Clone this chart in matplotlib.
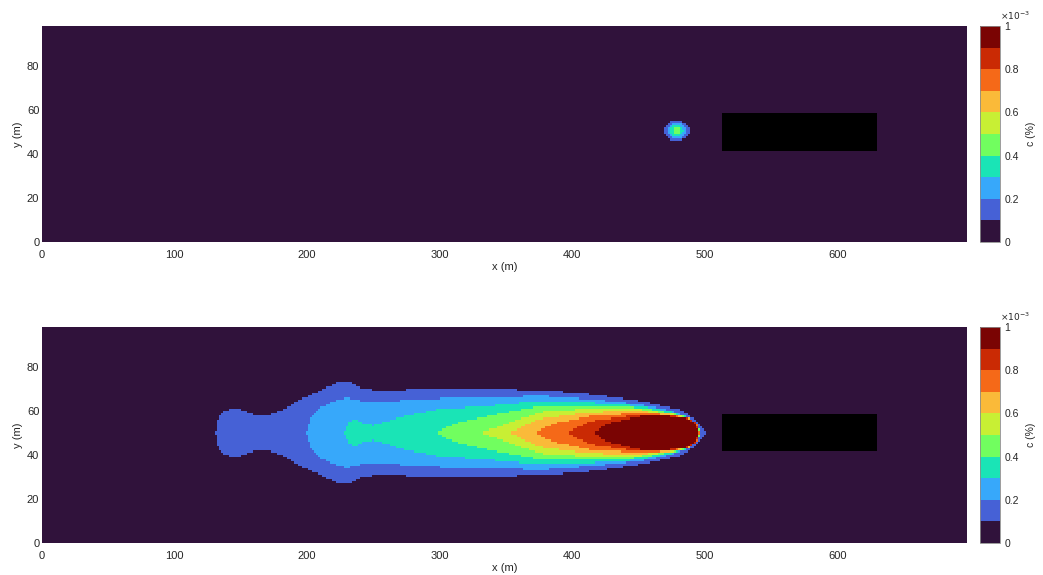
import numpy as np
import matplotlib
matplotlib.use("Agg")
import matplotlib.pyplot as plt
from matplotlib.patches import Rectangle

plt.rcParams['font.family'] = ['Liberation Sans', 'DejaVu Sans']

# domain and colour scale (c in units of 1e-3 %)
x_max = 698
y_max = 98
n_levels = 10
c_ticks = [0, 0.2, 0.4, 0.6, 0.8, 1]
c_tick_labels = ['0', '0.2', '0.4', '0.6', '0.8', '1']
x_ticks = [0, 100, 200, 300, 400, 500, 600]
y_ticks = [0, 20, 40, 60, 80]

# building (black block)
obstacle_x = [513, 630]
obstacle_y = [41.5, 58.5]

# top panel: small puff, one ellipse per concentration level (1..4)
puff_center = [479, 50.5]
puff_semi_x = [9.5, 7.0, 4.8, 2.6]
puff_semi_y = [4.6, 3.5, 2.5, 1.6]

# bottom panel: plume half-width (m) around y = 50 for each level
plume_y0 = 50
lvl1_x = [131, 132.5, 136, 143, 150, 156, 162, 170, 180, 195, 210, 222, 230, 236, 242, 250, 300, 340, 376, 414, 452, 470, 482, 489.5, 494.7, 498, 500, 502]
lvl1_hw = [0, 6, 9.5, 11, 10.5, 9, 8, 8, 10, 15, 19, 22.5, 23.5, 22, 20, 19.4, 19.6, 19.6, 19.4, 17.4, 14.4, 12, 10.6, 7.6, 4.5, 2, 1.2, 0]
lvl2_x = [199.5, 203, 210, 220, 230, 240, 248, 270, 300, 340, 376, 414, 452, 475, 488, 494, 497.5]
lvl2_hw = [0, 7, 11.5, 14, 15.9, 14.5, 13.6, 14.5, 15.5, 16, 16.8, 15.1, 12.9, 10, 7.2, 4, 0]
lvl3_x = [227.5, 232, 236, 242, 250, 260, 273, 298, 336, 376, 414, 452, 475, 488, 494, 497]
lvl3_hw = [0, 5, 6.2, 4.5, 3.4, 5, 7.6, 10.6, 12.2, 14.4, 13.6, 12.2, 9.5, 7, 4, 0]
lvl4_x = [297, 310, 336, 376, 414, 452, 475, 488, 494, 496.8]
lvl4_hw = [0, 4, 7.6, 12.2, 12.2, 11.4, 9, 6.9, 4, 0]
lvl5_x = [331, 350, 376, 414, 452, 475, 488, 494, 496.6]
lvl5_hw = [0, 4, 9.4, 11, 10.6, 8.7, 6.8, 4, 0]
lvl6_x = [353, 365, 376, 414, 452, 475, 488, 494, 496.4]
lvl6_hw = [0, 3.5, 6.4, 9.4, 9.8, 8.4, 6.7, 4, 0]
lvl7_x = [372, 385, 414, 452, 475, 488, 494, 496.2]
lvl7_hw = [0, 4, 7.6, 9.1, 8.1, 6.6, 4, 0]
lvl8_x = [395, 414, 452, 475, 488, 494, 496]
lvl8_hw = [0, 5.3, 8.4, 7.8, 6.5, 4, 0]
lvl9_x = [416, 425, 452, 470, 482, 488, 493, 495.5]
lvl9_hw = [0, 4, 7.6, 7.8, 7.0, 6.2, 4, 0]

plume_x = [lvl1_x, lvl2_x, lvl3_x, lvl4_x, lvl5_x, lvl6_x, lvl7_x, lvl8_x, lvl9_x]
plume_hw = [lvl1_hw, lvl2_hw, lvl3_hw, lvl4_hw, lvl5_hw, lvl6_hw, lvl7_hw, lvl8_hw, lvl9_hw]

# grid
dx, dy = 1.5, 1.0
xe = np.arange(0, x_max + dx, dx)
ye = np.arange(0, y_max + dy, dy)
xc = 0.5 * (xe[:-1] + xe[1:])
yc = 0.5 * (ye[:-1] + ye[1:])
X, Y = np.meshgrid(xc, yc)

# top field
level_top = np.zeros_like(X)
for ax_, by_ in zip(puff_semi_x, puff_semi_y):
    inside = ((X - puff_center[0]) / ax_) ** 2 + ((Y - puff_center[1]) / by_) ** 2 < 1
    level_top += inside
c_top = (level_top + 0.5) / n_levels

# bottom field
level_bot = np.zeros_like(X)
for xs, hws in zip(plume_x, plume_hw):
    hw = np.interp(xc, xs, hws, left=0, right=0)
    level_bot += np.abs(Y - plume_y0) < hw[np.newaxis, :]
c_bot = (level_bot + 0.5) / n_levels

cmap = plt.get_cmap('turbo', n_levels)
text_col = '#262626'

fig = plt.figure(figsize=(10.43, 5.75), dpi=100)

panels = [(0.5791, c_top), (0.0557, c_bot)]
for bottom, field in panels:
    ax = fig.add_axes([0.0403, bottom, 0.8869, 0.3757])
    im = ax.pcolormesh(xe, ye, field, cmap=cmap, vmin=0, vmax=1, shading='flat')
    ax.add_patch(Rectangle((obstacle_x[0], obstacle_y[0]),
                           obstacle_x[1] - obstacle_x[0], obstacle_y[1] - obstacle_y[0],
                           facecolor='black', edgecolor='none'))
    ax.set_xlim(0, x_max)
    ax.set_ylim(0, y_max)
    ax.set_xticks(x_ticks)
    ax.set_yticks(y_ticks)
    ax.tick_params(length=0, labelsize=8, colors=text_col)
    ax.tick_params(axis='x', pad=5.5)
    ax.tick_params(axis='y', pad=2)
    for s in ax.spines.values():
        s.set_visible(False)
    ax.set_xlabel('x (m)', fontsize=8, color=text_col, labelpad=2)
    ax.set_ylabel('y (m)', fontsize=8, color=text_col, labelpad=3)

    cax = fig.add_axes([0.9396, bottom, 0.0192, 0.3757])
    cb = fig.colorbar(im, cax=cax, ticks=c_ticks)
    cb.ax.set_yticklabels(c_tick_labels)
    cb.ax.tick_params(length=0, pad=3, labelsize=7.5, colors=text_col)
    cb.outline.set_edgecolor('#8c8c8c')
    cb.outline.set_linewidth(0.6)
    cb.set_label('c (%)', fontsize=7.5, color=text_col, labelpad=5)
    cax.text(1.0, 1.02, r'$\times10^{-3}$', transform=cax.transAxes,
             fontsize=6.5, color=text_col, ha='left', va='bottom')

fig.savefig('out.png', dpi=100)
